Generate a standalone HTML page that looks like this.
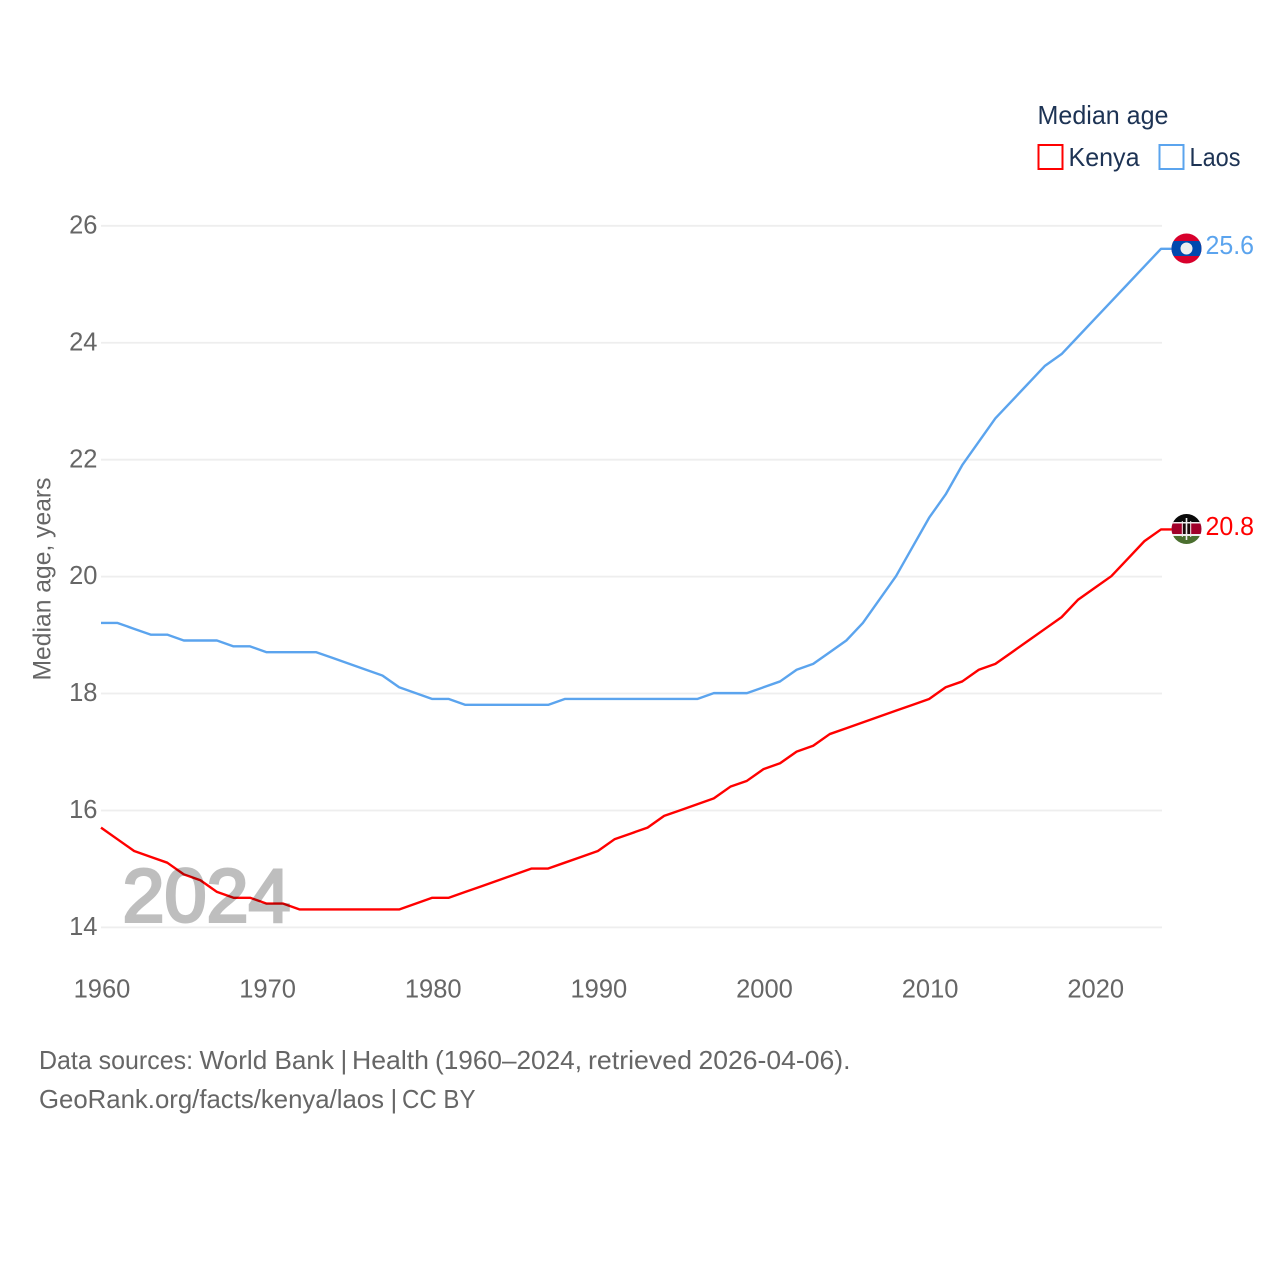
<!DOCTYPE html>
<html lang="en">
<head>
<meta charset="utf-8">
<title>Median age: Kenya and Laos</title>
<style>
html,body{margin:0;padding:0;background:#fff;}
svg{display:block;font-family:"Liberation Sans",sans-serif;}
</style>
</head>
<body>
<svg id="chart" width="1280" height="1280" viewBox="0 0 1280 1280" xmlns="http://www.w3.org/2000/svg">
  <defs>
    <clipPath id="flag-clip-laos"><circle cx="1186.5" cy="248.5" r="15"/></clipPath>
    <clipPath id="flag-clip-kenya"><circle cx="1186.5" cy="529" r="15"/></clipPath>
  </defs>
  <rect width="1280" height="1280" fill="#fff"/>
  <g id="grid"></g>
  <g id="yticks"></g>
  <g id="xticks"></g>
  <text transform="translate(50.5,579) rotate(-90)" text-anchor="middle" font-size="25" fill="#666" textLength="203" lengthAdjust="spacingAndGlyphs">Median age, years</text>
  <g id="series"></g>
  <text x="122.5" y="921.5" font-size="75" stroke="#000" stroke-width="3" fill="#000" opacity="0.25" textLength="168" lengthAdjust="spacingAndGlyphs">2024</text>

  <g clip-path="url(#flag-clip-laos)">
    <rect x="1171" y="233" width="31" height="32" fill="#d8002c"/>
    <rect x="1171" y="241" width="31" height="15" fill="#0049ae"/>
    <circle cx="1186.5" cy="248.5" r="6" fill="#eee"/>
  </g>
  <g clip-path="url(#flag-clip-kenya)">
    <rect x="1171" y="513" width="31" height="10" fill="#0a0a0a"/>
    <rect x="1171" y="522" width="31" height="15" fill="#eee"/>
    <rect x="1171" y="523.5" width="31" height="10.5" fill="#a1002a"/>
    <rect x="1171" y="536" width="31" height="9" fill="#4b6f2f"/>
    <rect x="1183" y="523.5" width="7" height="10.5" fill="#1a0a0a"/>
    <rect x="1185.7" y="518" width="1.6" height="22" fill="#eee"/>
    <rect x="1181.8" y="521" width="1" height="16" fill="#eee"/>
    <rect x="1190.2" y="521" width="1" height="16" fill="#eee"/>
  </g>

  <text x="1205.5" y="254" font-size="25.5" fill="#5ba4ee" textLength="48.5" lengthAdjust="spacingAndGlyphs">25.6</text>
  <text x="1205.5" y="535" font-size="25.5" fill="#ff0000" textLength="48.5" lengthAdjust="spacingAndGlyphs">20.8</text>

  <g>
    <text x="1037.5" y="124" font-size="26" fill="#1d3354" textLength="131" lengthAdjust="spacingAndGlyphs">Median age</text>
    <rect x="1038.5" y="145" width="24" height="24" fill="none" stroke="#ff0000" stroke-width="2"/>
    <text x="1068.5" y="166" font-size="26" fill="#1d3354" textLength="71" lengthAdjust="spacingAndGlyphs">Kenya</text>
    <rect x="1159.5" y="145" width="24" height="24" fill="none" stroke="#5ba4ee" stroke-width="2"/>
    <text x="1189.5" y="166" font-size="26" fill="#1d3354" textLength="51" lengthAdjust="spacingAndGlyphs">Laos</text>
  </g>

  <g font-size="26" fill="#666">
    <text x="39" y="1069" textLength="154" lengthAdjust="spacingAndGlyphs">Data sources:</text>
    <text x="199.5" y="1069" textLength="134.5" lengthAdjust="spacingAndGlyphs">World Bank</text>
    <text x="340.5" y="1069">|</text>
    <text x="352" y="1069" textLength="77" lengthAdjust="spacingAndGlyphs">Health</text>
    <text x="435" y="1069" textLength="147" lengthAdjust="spacingAndGlyphs">(1960–2024,</text>
    <text x="588" y="1069" textLength="104" lengthAdjust="spacingAndGlyphs">retrieved</text>
    <text x="698.5" y="1069" textLength="152" lengthAdjust="spacingAndGlyphs">2026-04-06).</text>
  </g>
  <g font-size="26" fill="#666">
    <text x="39" y="1108" textLength="345" lengthAdjust="spacingAndGlyphs">GeoRank.org/facts/kenya/laos</text>
    <text x="390.5" y="1108">|</text>
    <text x="402" y="1108" textLength="73.5" lengthAdjust="spacingAndGlyphs">CC BY</text>
  </g>
</svg>
<script>
const years = [1960,1961,1962,1963,1964,1965,1966,1967,1968,1969,1970,1971,1972,1973,1974,1975,1976,1977,1978,1979,1980,1981,1982,1983,1984,1985,1986,1987,1988,1989,1990,1991,1992,1993,1994,1995,1996,1997,1998,1999,2000,2001,2002,2003,2004,2005,2006,2007,2008,2009,2010,2011,2012,2013,2014,2015,2016,2017,2018,2019,2020,2021,2022,2023,2024];
const kenyaValues = [15.7,15.5,15.3,15.2,15.1,14.9,14.8,14.6,14.5,14.5,14.4,14.4,14.3,14.3,14.3,14.3,14.3,14.3,14.3,14.4,14.5,14.5,14.6,14.7,14.8,14.9,15.0,15.0,15.1,15.2,15.3,15.5,15.6,15.7,15.9,16.0,16.1,16.2,16.4,16.5,16.7,16.8,17.0,17.1,17.3,17.4,17.5,17.6,17.7,17.8,17.9,18.1,18.2,18.4,18.5,18.7,18.9,19.1,19.3,19.6,19.8,20.0,20.3,20.6,20.8];
const laosValues = [19.2,19.2,19.1,19.0,19.0,18.9,18.9,18.9,18.8,18.8,18.7,18.7,18.7,18.7,18.6,18.5,18.4,18.3,18.1,18.0,17.9,17.9,17.8,17.8,17.8,17.8,17.8,17.8,17.9,17.9,17.9,17.9,17.9,17.9,17.9,17.9,17.9,18.0,18.0,18.0,18.1,18.2,18.4,18.5,18.7,18.9,19.2,19.6,20.0,20.5,21.0,21.4,21.9,22.3,22.7,23.0,23.3,23.6,23.8,24.1,24.4,24.7,25.0,25.3,25.6];
const yTickValues = [14,16,18,20,22,24,26];
const xTickValues = [1960,1970,1980,1990,2000,2010,2020];

const NS = 'http://www.w3.org/2000/svg';
const plotLeft = 101, plotRight = 1161, plotTop = 225.4, plotBottom = 927;
const flagX = 1172;
function xScale(year) {
  return plotLeft + (year - 1960) / (2024 - 1960) * (plotRight - plotLeft);
}
function yScale(value) {
  return plotBottom - (value - 14) / (26 - 14) * (plotBottom - plotTop);
}
function make(tag, attrs, text) {
  const el = document.createElementNS(NS, tag);
  for (const key in attrs) el.setAttribute(key, attrs[key]);
  if (text !== undefined) el.textContent = text;
  return el;
}
const gridGroup = document.getElementById('grid');
const yTickGroup = document.getElementById('yticks');
const xTickGroup = document.getElementById('xticks');
const seriesGroup = document.getElementById('series');

yTickValues.forEach(function (v) {
  const line = make('line', {x1: plotLeft, x2: plotRight + 1, y1: yScale(v) + 0.4, y2: yScale(v) + 0.4, stroke: '#eeeeee', 'stroke-width': 1.8});
  
  
  gridGroup.appendChild(line);
  const label = make('text', {x: 97.5, y: yScale(v) + 8, 'text-anchor': 'end', 'font-size': 25.5, fill: '#666'}, String(v));
  
  
  yTickGroup.appendChild(label);
});

xTickValues.forEach(function (t) {
  const label = make('text', {x: xScale(t) + 1, y: 997.5, 'text-anchor': 'middle', 'font-size': 25.5, fill: '#666'}, String(t));
  
  
  xTickGroup.appendChild(label);
});

function drawSeries(name, values, color) {
  const pts = values.map(function (v, i) {
    return xScale(years[i]).toFixed(2) + ',' + yScale(v).toFixed(2);
  });
  const last = values[values.length - 1];
  pts.push(flagX + ',' + yScale(last).toFixed(2));
  const line = make('polyline', {points: pts.join(' '), fill: 'none', stroke: color, 'stroke-width': 2.4, 'stroke-linejoin': 'round'});
  
  
  seriesGroup.appendChild(line);
}
drawSeries('laos', laosValues, '#5ba4ee');
drawSeries('kenya', kenyaValues, '#ff0000');
</script>
</body>
</html>
